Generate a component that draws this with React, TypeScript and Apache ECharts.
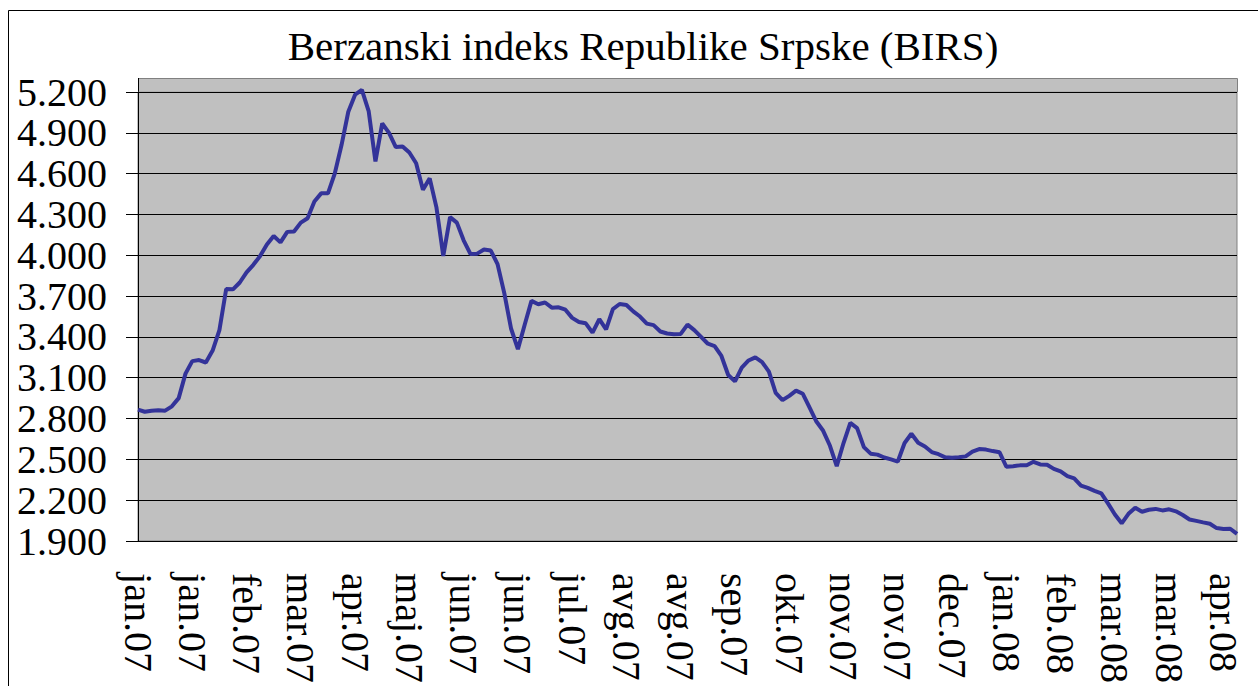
import React, { useEffect, useRef } from 'react';
import * as echarts from 'echarts';

const TITLE = 'Berzanski indeks Republike Srpske (BIRS)';

const xLabels = [
  'jan.07', 'jan.07', 'feb.07', 'mar.07', 'apr.07', 'maj.07', 'jun.07', 'jun.07',
  'jul.07', 'avg.07', 'avg.07', 'sep.07', 'okt.07', 'nov.07', 'nov.07', 'dec.07',
  'jan.08', 'feb.08', 'mar.08', 'mar.08', 'apr.08',
];
const LABEL_EVERY = 8;

const birsValues = [
  2866, 2850, 2858, 2861, 2858, 2890, 2950, 3130, 3222, 3230,
  3212, 3300, 3450, 3752, 3750, 3800, 3875, 3930, 3995, 4080,
  4142, 4095, 4172, 4175, 4240, 4272, 4395, 4455, 4455, 4600,
  4810, 5055, 5180, 5215, 5060, 4690, 4970, 4900, 4795, 4800,
  4755, 4676, 4482, 4565, 4350, 3995, 4280, 4240, 4110, 4010,
  4012, 4042, 4035, 3935, 3720, 3460, 3310, 3490, 3665, 3640,
  3653, 3615, 3618, 3600, 3540, 3510, 3500, 3431, 3530, 3455,
  3605, 3642, 3635, 3588, 3550, 3498, 3487, 3440, 3425, 3420,
  3422, 3490, 3450, 3400, 3350, 3333, 3260, 3120, 3073, 3175,
  3227, 3250, 3215, 3145, 2988, 2935, 2967, 3005, 2982, 2880,
  2778, 2710, 2600, 2450, 2620, 2768, 2730, 2590, 2542, 2535,
  2514, 2500, 2484, 2620, 2688, 2622, 2595, 2554, 2538, 2515,
  2512, 2515, 2522, 2557, 2576, 2572, 2561, 2552, 2446, 2450,
  2456, 2457, 2482, 2463, 2460, 2430, 2412, 2377, 2360, 2307,
  2290, 2268, 2250, 2175, 2095, 2030, 2100, 2145, 2115, 2130,
  2136, 2125, 2133, 2118, 2091, 2058, 2048, 2037, 2027, 1995,
  1988, 1990, 1952,
];

const Y_MIN = 1900;
const Y_MAX = 5200;
const Y_STEP = 300;

const FONT = '"Liberation Serif", "Times New Roman", serif';

// layout (pixels)
const PLOT_LEFT = 138;
const PLOT_RIGHT = 1237;
const PLOT_TOP = 78; // plot-area frame top
const AXIS_TOP = 92; // position of the 5.200 gridline
const AXIS_BOTTOM = 543;
const W = 1258;
const H = 686;

function fmtThousands(v: number): string {
  const s = String(Math.round(v));
  if (s.length <= 3) return s;
  return s.slice(0, -3) + '.' + s.slice(-3);
}

export default function App() {
  const ref = useRef<HTMLDivElement>(null);

  useEffect(() => {
    if (!ref.current) return;
    const chart = echarts.init(ref.current, null, { renderer: 'svg' });
    const categories = birsValues.map((_, i) =>
      i % LABEL_EVERY === 0 ? (xLabels[i / LABEL_EVERY] ?? '') : ''
    );
    chart.setOption({
      animation: false,
      backgroundColor: '#ffffff',
      graphic: [
        {
          type: 'rect',
          silent: true,
          z: -10,
          shape: { x: 8.5, y: 10.5, width: 1300, height: 700 },
          style: { fill: 'none', stroke: '#000000', lineWidth: 1 },
        },
        {
          type: 'rect',
          silent: true,
          z: -10,
          shape: { x: PLOT_LEFT, y: PLOT_TOP, width: PLOT_RIGHT - PLOT_LEFT, height: AXIS_TOP - PLOT_TOP - 0.5 },
          style: { fill: '#C0C0C0', stroke: 'none' },
        },
        {
          type: 'polyline',
          silent: true,
          z: -5,
          shape: {
            points: [
              [PLOT_LEFT, PLOT_TOP + 0.5],
              [PLOT_RIGHT + 0.5, PLOT_TOP + 0.5],
              [PLOT_RIGHT + 0.5, AXIS_TOP],
            ],
          },
          style: { fill: 'none', stroke: '#808080', lineWidth: 1 },
        },
        {
          type: 'line',
          silent: true,
          z: -5,
          shape: { x1: PLOT_LEFT + 0.5, y1: PLOT_TOP, x2: PLOT_LEFT + 0.5, y2: AXIS_TOP },
          style: { stroke: '#000000', lineWidth: 1 },
        },
        {
          type: 'text',
          silent: true,
          x: 643,
          y: 46,
          style: {
            text: TITLE,
            fontFamily: FONT,
            fontSize: 41,
            fill: '#000000',
            textAlign: 'center',
            textVerticalAlign: 'middle',
            align: 'center',
            verticalAlign: 'middle',
          },
        },
      ],
      grid: {
        left: PLOT_LEFT,
        top: AXIS_TOP,
        right: W - PLOT_RIGHT,
        bottom: H - AXIS_BOTTOM,
        show: true,
        backgroundColor: '#C0C0C0',
        borderColor: '#808080',
        borderWidth: 1,
        containLabel: false,
      },
      xAxis: {
        type: 'category',
        data: categories,
        boundaryGap: false,
        axisLine: { show: true, lineStyle: { color: '#000000', width: 1 } },
        axisTick: { show: false },
        splitLine: { show: false },
        axisLabel: {
          interval: LABEL_EVERY - 1,
          rotate: -90,
          margin: 32,
          fontFamily: FONT,
          fontSize: 40,
          color: '#000000',
        },
      },
      yAxis: {
        type: 'value',
        min: Y_MIN,
        max: Y_MAX,
        interval: Y_STEP,
        axisLine: { show: true, lineStyle: { color: '#000000', width: 1 } },
        axisTick: { show: true, length: 12, lineStyle: { color: '#000000', width: 1 } },
        splitLine: { show: true, lineStyle: { color: '#000000', width: 1 } },
        axisLabel: {
          margin: 31,
          formatter: (v: number) => fmtThousands(v),
          fontFamily: FONT,
          fontSize: 40,
          color: '#000000',
        },
      },
      series: [
        {
          type: 'line',
          data: birsValues,
          showSymbol: false,
          symbol: 'none',
          clip: false,
          lineStyle: { color: '#333399', width: 4 },
        },
      ],
    });
    return () => chart.dispose();
  }, []);

  return (
    <div
      ref={ref}
      style={{ position: 'fixed', left: 0, top: 0, width: W, height: H, background: '#fff' }}
    />
  );
}
